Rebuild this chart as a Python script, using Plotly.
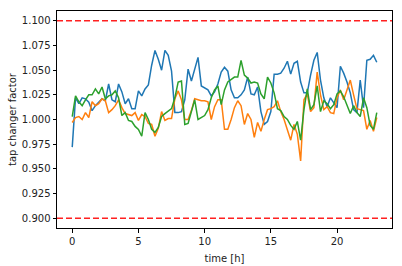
import numpy as np
import plotly.graph_objects as go

step_h = 0.25
blue = [0.972, 1.022, 1.016, 1.022, 1.021, 1.0175, 1.009, 1.014, 1.0175, 1.021, 1.019, 1.036, 1.02,
        1.018, 1.036, 1.028, 1.016, 1.021, 1.011, 1.011, 1.029, 1.024, 1.031, 1.035, 1.055, 1.07,
        1.061, 1.05, 1.07, 1.065, 1.049, 1.007, 1.007,
        1.008, 1.02, 1.051, 1.039, 1.05, 1.063, 1.034, 1.032, 1.03, 1.024, 1.028, 1.036, 1.048,
        1.053, 1.049, 1.03, 1.022, 1.022, 1.025, 1.03, 1.043, 1.026, 1.025, 1.033, 1.008, 0.995,
        0.998, 1.008, 1.046, 1.046, 1.047,
        1.052, 1.059, 1.046, 1.057, 1.059, 1.038, 1.027, 1.027, 1.045, 1.06, 1.068, 1.04, 1.022,
        1.013, 1.022, 1.0175, 1.012, 1.054, 1.047, 1.038, 1.027, 1.01, 1.007, 1.04, 1.012, 1.06,
        1.061, 1.065, 1.058]
orange = [0.997, 1.002, 1.003, 1.0, 1.007, 1.002, 1.018, 1.014, 1.016, 1.021, 1.019, 1.007, 1.01,
          1.014, 1.02, 1.012, 1.006, 1.005, 1.004, 1.007, 0.999, 1.005, 1.003, 0.996, 0.995, 0.983,
          0.991, 1.008, 0.999, 1.001, 1.001, 1.021, 1.029,
          1.02, 1.0, 1.0, 1.009, 1.021, 1.02, 1.019, 1.019, 1.018, 1.0, 1.013, 1.02, 1.02, 0.99,
          0.99, 1.0, 1.012, 1.019, 1.014, 0.995, 1.006, 1.0, 0.982, 0.997, 0.988, 1.0, 1.01, 1.011,
          1.013, 1.019, 1.008, 1.0,
          0.99, 0.979, 0.995, 0.985, 0.958, 1.02, 1.026, 1.008, 1.012, 1.048, 1.025, 1.01, 1.013,
          1.007, 1.006, 1.022, 1.03, 1.02, 1.03, 1.04, 1.025, 1.011, 1.01, 1.009, 0.99, 0.999,
          0.988, 1.002]
green = [1.003, 1.024, 1.018, 1.014, 1.02, 1.025, 1.025, 1.031, 1.026, 1.033, 1.021, 1.024, 1.025,
         1.029, 1.022, 1.004, 1.007, 0.999, 0.998, 0.993, 0.99, 0.983, 1.007, 1.0, 0.99, 0.987,
         0.992, 1.003, 1.006, 1.009, 1.011, 1.022, 1.038,
         1.039, 0.995, 0.996, 1.009, 1.02, 1.0, 1.002, 1.004, 1.01, 1.022, 1.03, 1.034, 1.015,
         1.03, 1.038, 1.041, 1.043, 1.043, 1.06, 1.045, 1.042, 1.037, 1.038, 1.037, 1.026, 1.021,
         1.043, 1.037, 1.027, 1.011, 1.009, 1.003,
         1.0, 0.994, 0.99, 0.998, 0.979, 1.01, 1.031, 1.01, 1.015, 1.034, 1.008, 1.019, 1.016,
         1.011, 1.015, 1.026, 1.029, 1.023, 1.015, 1.006, 1.014, 1.007, 1.003, 1.022, 1.012,
         0.994, 0.99, 1.007]
limits = [0.9, 1.1]
x_ticks = [0, 5, 10, 15, 20]
y_ticks = [0.9, 0.925, 0.95, 0.975, 1.0, 1.025, 1.05, 1.075, 1.1]

hours = np.arange(len(blue)) * step_h

fig = go.Figure()
for vals, col in [(blue, "#1f77b4"), (orange, "#ff7f0e"), (green, "#2ca02c")]:
    fig.add_trace(go.Scatter(x=hours, y=vals, mode="lines",
                             line=dict(color=col, width=1.5), showlegend=False))
for lim in limits:
    fig.add_shape(type="line", xref="x domain", yref="y", x0=0, x1=1, y0=lim, y1=lim,
                  line=dict(color="#ff2020", width=1.5, dash="6px,3px"))

span = hours[-1] - hours[0]
axis_common = dict(showline=True, linecolor="black", linewidth=1, mirror=True,
                   ticks="outside", ticklen=3.5, tickcolor="black", tickwidth=1,
                   showgrid=False, zeroline=False, automargin=False,
                   tickfont=dict(family="DejaVu Sans", size=10, color="#222"))
fig.update_xaxes(range=[hours[0] - 0.05 * span, hours[-1] + 0.05 * span],
                 tickvals=x_ticks, title=dict(text="time [h]", standoff=9,
                 font=dict(family="DejaVu Sans", size=10, color="#222")), **axis_common)
fig.update_yaxes(range=[0.89, 1.11], tickvals=y_ticks, tickformat=".3f",
                 title=dict(text="tap changer factor", standoff=3,
                 font=dict(family="DejaVu Sans", size=10, color="#222")), **axis_common)
fig.update_layout(width=402, height=266, margin=dict(l=57, r=10, t=11, b=38),
                  paper_bgcolor="white", plot_bgcolor="white",
                  font=dict(family="DejaVu Sans", size=10))
fig.write_html("out.html")
